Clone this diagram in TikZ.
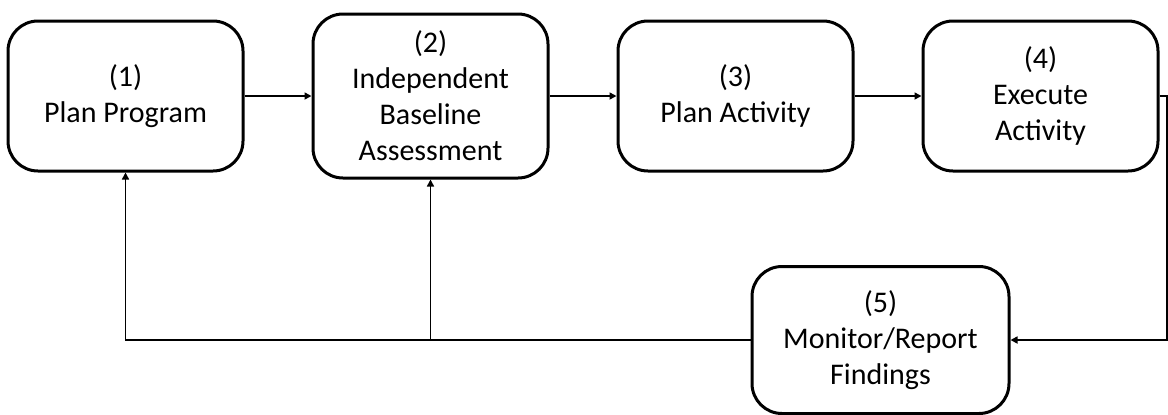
\documentclass[tikz,border=0pt]{standalone}
\usepackage{fontspec}
\setmainfont{Carlito}
\usetikzlibrary{arrows.meta, positioning}

\begin{document}
\begin{tikzpicture}[x=0.5pt, y=-0.5pt, node distance=33.5pt, >={Triangle[length=3.5pt,width=3.5pt]},
    stage/.style={draw, line width=1.5pt, rounded corners=15pt, align=center,
        minimum width=117.5pt, minimum height=75pt,
        font=\fontsize{15}{18}\selectfont},
    flow/.style={->, line width=0.8pt}]
				\useasboundingbox (0,0) rectangle (1168,414);

				\node [stage] (plan) at (125.5,96) {(1)\\Plan Program};
				\node [stage, minimum height=82pt, right=of plan] (baseline) {(2)\\Independent\\Baseline\\Assessment};
				\node [stage, right=of baseline] (activity) {(3)\\Plan Activity};
				\node [stage, right=of activity] (execute) {(4)\\Execute\\Activity};
				\node [stage, minimum width=128.5pt, minimum height=73.5pt] (monitor) at (880.5,340) {(5)\\Monitor/Report\\Findings};
				\coordinate (turn) at (1167,340);

				\draw [flow] (plan) -- (baseline);
				\draw [flow] (baseline) -- (activity);
				\draw [flow] (activity) -- (execute);
				\draw [flow] (execute.east) -| (turn) -- (monitor.east);
				\draw [flow] (monitor.west) -| (plan.south);
				\draw [flow] (monitor.west -| baseline.south) -- (baseline.south);
			\end{tikzpicture}
\end{document}
